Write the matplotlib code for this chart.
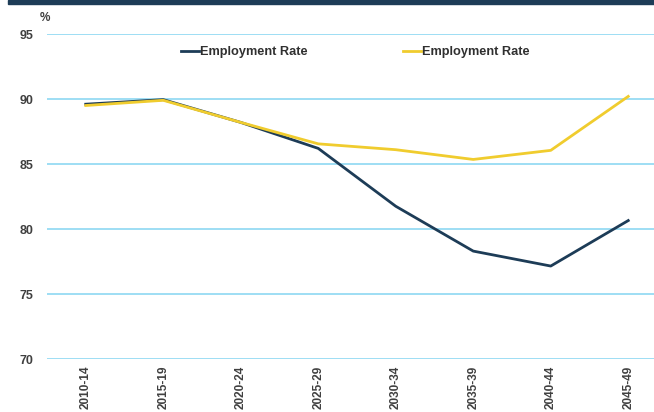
import matplotlib
matplotlib.use("Agg")
import matplotlib.pyplot as plt
from matplotlib.patches import Rectangle

categories = ["2010-14", "2015-19", "2020-24", "2025-29", "2030-34", "2035-39", "2040-44", "2045-49"]
rate_a = [89.6, 89.95, 88.2, 86.2, 81.75, 78.3, 77.15, 80.65]
rate_b = [89.5, 89.9, 88.2, 86.55, 86.1, 85.35, 86.05, 90.2]
yticks = [70, 75, 80, 85, 90, 95]

plt.rcParams['font.family'] = ['Liberation Sans', 'DejaVu Sans']

W, H = 654, 412
fig = plt.figure(figsize=(W/100, H/100), dpi=100)
ax = fig.add_axes([47/W, (H-359)/H, 620/W, 325/H])

# top band
fig.patches.append(Rectangle((8/W, (H-4)/H), 1, 4/H, transform=fig.transFigure,
                             color="#1d3c57", zorder=0))

x = list(range(len(categories)))
ax.plot(x, rate_a, color="#1d3c57", lw=2.0, label="Employment Rate")
ax.plot(x, rate_b, color="#f0cc2e", lw=2.0, label="Employment Rate")

ax.set_xlim(-0.5, 7.5)
ax.set_ylim(70, 95)
ax.set_yticks(yticks)
ax.set_yticklabels([str(v) for v in yticks], fontsize=9, fontweight="bold", color="#404040")
ax.set_xticks(x)
ax.set_xticklabels(categories, rotation=90, fontsize=8.5, fontweight="bold", color="#404040")
ax.tick_params(axis="y", length=0, pad=10)
ax.tick_params(axis="x", length=0, pad=5)
for s in ax.spines.values():
    s.set_visible(False)
ax.grid(axis="y", color="#8dd8f2", lw=1.2)
ax.set_axisbelow(True)

ax.text(40/W, (H-18)/H, "%", transform=fig.transFigure, fontsize=8.5, fontweight="bold",
        color="#404040", ha="left", va="center")

leg = ax.legend(loc="center", bbox_to_anchor=(0.497, (H-52 - (H-359))/325), ncol=2, frameon=False,
                prop={"size": 9.2, "weight": "bold"}, handlelength=1.4, handletextpad=0.05,
                columnspacing=7.5, borderpad=0, borderaxespad=0)
for t in leg.get_texts():
    t.set_color("#303030")

fig.savefig("out.png", dpi=100)
